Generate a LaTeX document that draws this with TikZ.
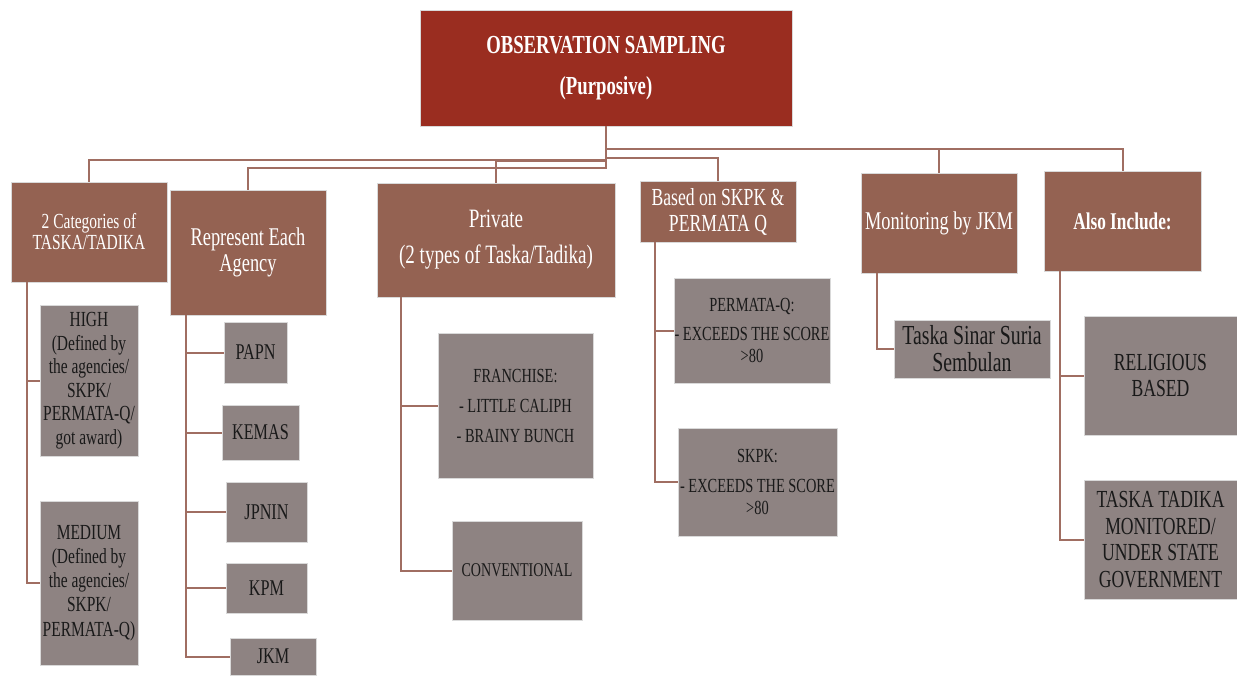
\documentclass[tikz,border=0pt]{standalone}
\usepackage{fontspec}
\setmainfont{Liberation Serif}[FakeStretch=0.72]
\definecolor{rootred}{RGB}{154,45,32}
\definecolor{topbrown}{RGB}{148,98,82}
\definecolor{leafgray}{RGB}{142,131,130}
\definecolor{linebrown}{RGB}{160,110,98}
\newcommand{\fsz}[2]{\fontsize{#1}{#2}\selectfont}

\begin{document}
\begin{tikzpicture}[x=1pt,y=-1pt,
  box/.style={rectangle,inner sep=0pt,align=center,draw=white!85!black,line width=0.6pt},
  rootbox/.style={box,fill=rootred,text=white},
  topbox/.style={box,fill=topbrown,text=white},
  leafbox/.style={box,fill=leafgray,text=black!90},
  conn/.style={draw=linebrown,line width=2pt}]
\useasboundingbox[fill=white] (0,0) rectangle (1237,675);
% root
\node[rootbox,minimum width=372,minimum height=116,font=\fsz{26}{41}\bfseries] (root) at (606,68) {OBSERVATION SAMPLING\\(Purposive)};
% first level
\node[topbox,minimum width=156,minimum height=100,font=\fsz{21.5}{21}] (cat) at (89,232) {2 Categories of\\TASKA/TADIKA};
\node[topbox,minimum width=156,minimum height=125,font=\fsz{25.5}{26}] (agency) at (248,252.5) {Represent Each\\Agency};
\node[topbox,minimum width=238,minimum height=114,font=\fsz{26.5}{36}] (private) at (496,240) {Private\\(2 types of Taska/Tadika)};
\node[topbox,minimum width=156,minimum height=61,font=\fsz{24.5}{26}] (based) at (718,211.5) {Based on SKPK \&\\PERMATA Q};
\node[topbox,minimum width=156,minimum height=100,font=\fsz{25.5}{26}] (monit) at (939,223) {Monitoring by JKM};
\node[topbox,minimum width=157,minimum height=100,font=\fsz{24}{26}\bfseries] (also) at (1122.5,221) {Also Include:};
\draw[conn] (root.south) -- ++(0,34) -| (cat.north);
\draw[conn] (root.south) -- ++(0,42) -| (agency.north);
\draw[conn] (root.south) -- ++(0,35) -| (private.north);
\draw[conn] (root.south) -- ++(0,32) -| (based.north);
\draw[conn] (root.south) -- ++(0,23) -| (monit.north);
\draw[conn] (root.south) -- ++(0,23) -| (also.north);
% categories
\node[leafbox,minimum width=98,minimum height=151,font=\fsz{21.5}{23.5}] (high) at (89,380.5) {HIGH\\(Defined by\\the agencies/\\SKPK/\\PERMATA-Q/\\got award)};
\node[leafbox,minimum width=98,minimum height=164,font=\fsz{21.5}{24.2}] (medium) at (89,583) {MEDIUM\\(Defined by\\the agencies/\\SKPK/\\PERMATA-Q)};
\draw[conn] ([xshift=16pt]cat.south west) |- (high.west);
\draw[conn] ([xshift=16pt]cat.south west) |- (medium.west);
% agencies
\node[leafbox,minimum width=63,minimum height=61,font=\fsz{22.5}{24}] (papn) at (255.5,352.5) {PAPN};
\node[leafbox,minimum width=77,minimum height=55,font=\fsz{22.5}{24}] (kemas) at (260.5,432.5) {KEMAS};
\node[leafbox,minimum width=81,minimum height=60,font=\fsz{22.5}{24}] (jpnin) at (266.5,512) {JPNIN};
\node[leafbox,minimum width=81,minimum height=50,font=\fsz{22.5}{24}] (kpm) at (266.5,588) {KPM};
\node[leafbox,minimum width=86,minimum height=37,font=\fsz{22.5}{24}] (jkm) at (273,656.5) {JKM};
\foreach \n in {papn,kemas,jpnin,kpm,jkm}
  \draw[conn] ([xshift=16pt]agency.south west) |- (\n.west);
% private
\node[leafbox,minimum width=155,minimum height=145,font=\fsz{20}{30}] (franchise) at (515.5,405.5) {FRANCHISE:\\- LITTLE CALIPH\\- BRAINY BUNCH};
\node[leafbox,minimum width=130,minimum height=99,font=\fsz{19.5}{24}] (conv) at (517,570.5) {CONVENTIONAL};
\draw[conn] ([xshift=24pt]private.south west) |- (franchise.west);
\draw[conn] ([xshift=24pt]private.south west) |- (conv.west);
% skpk and permata
\node[leafbox,minimum width=156,minimum height=105,font=\fsz{20}{22}] (permata) at (752,330.5) {PERMATA-Q:\\[7pt]- EXCEEDS THE SCORE\\>80};
\node[leafbox,minimum width=159,minimum height=108,font=\fsz{20}{22}] (skpk) at (757.5,482) {SKPK:\\[8pt]- EXCEEDS THE SCORE\\>80};
\draw[conn] ([xshift=15pt]based.south west) |- (permata.west);
\draw[conn] ([xshift=15pt]based.south west) |- (skpk.west);
% jkm
\node[leafbox,minimum width=156,minimum height=58,font=\fsz{27.5}{27}] (sinar) at (972,349) {Taska Sinar Suria\\Sembulan};
\draw[conn] ([xshift=16pt]monit.south west) |- (sinar.west);
% also include
\node[leafbox,minimum width=153,minimum height=119,font=\fsz{24.5}{26.5}] (relig) at (1160.5,375.5) {RELIGIOUS\\BASED};
\node[leafbox,minimum width=153,minimum height=119,font=\fsz{24.5}{26.5}] (state) at (1160.5,539.5) {TASKA TADIKA\\MONITORED/\\UNDER STATE\\GOVERNMENT};
\draw[conn] ([xshift=16pt]also.south west) |- (relig.west);
\draw[conn] ([xshift=16pt]also.south west) |- (state.west);
\end{tikzpicture}
\end{document}
